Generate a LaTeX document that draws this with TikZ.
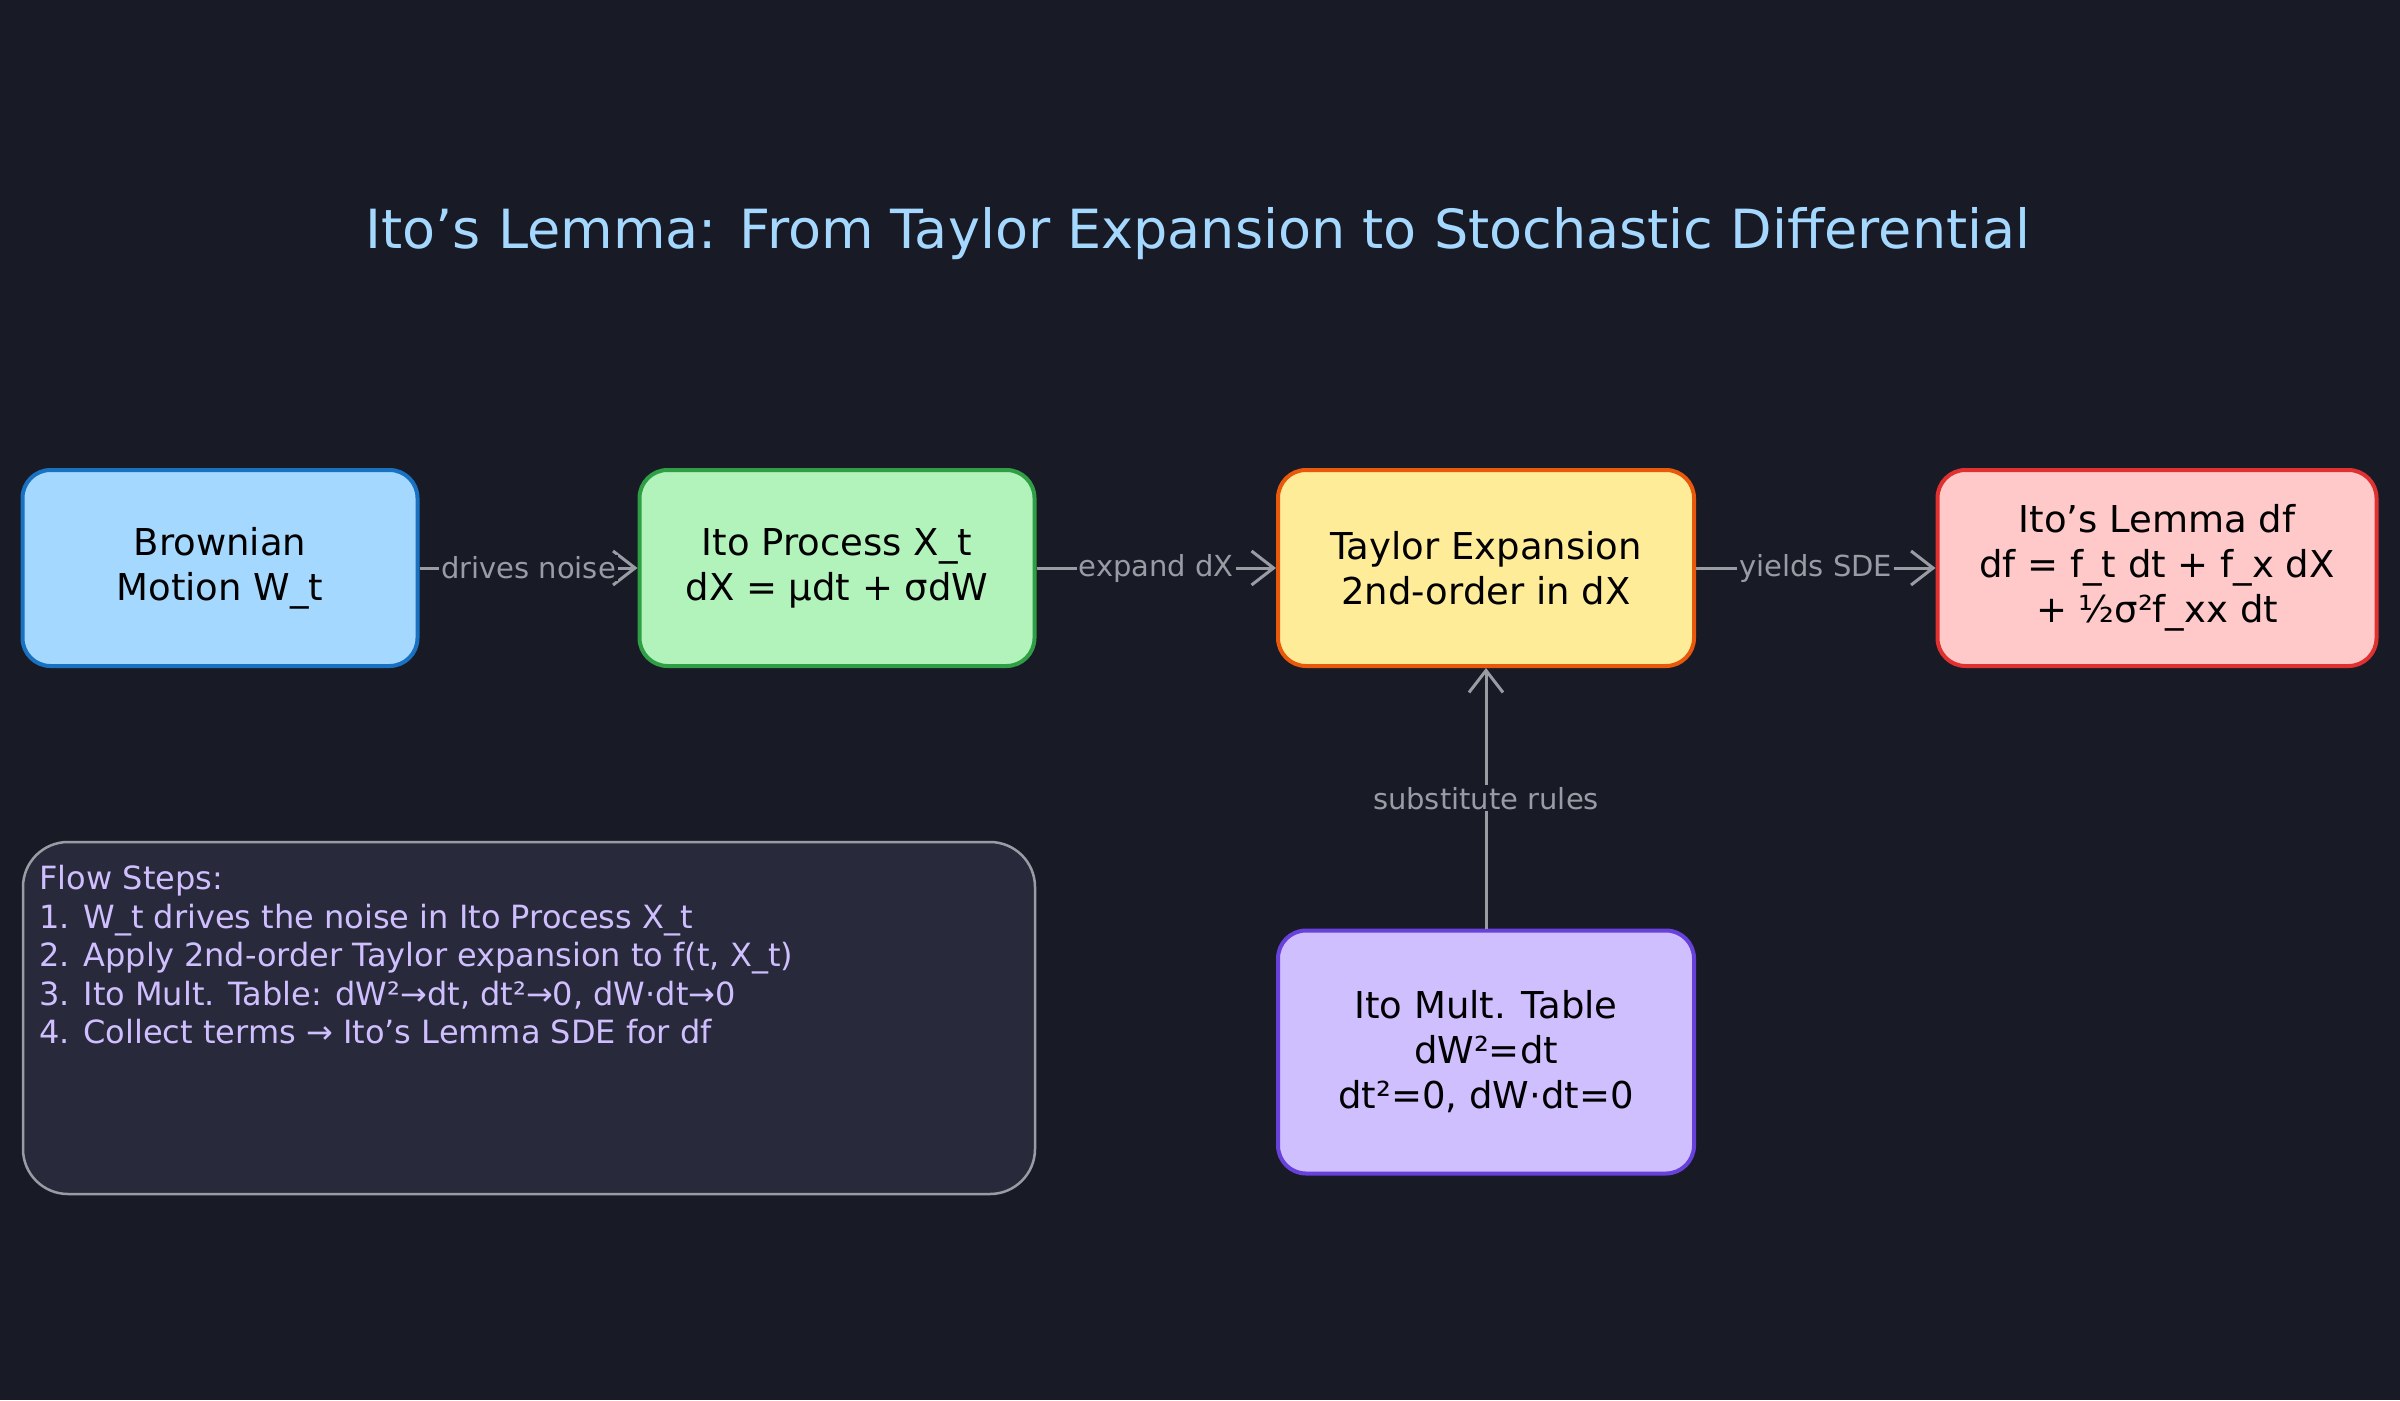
\documentclass[tikz,border=0pt]{standalone}
\usepackage{fontspec}
\setmainfont{DejaVu Sans}
\usetikzlibrary{arrows.meta}
\definecolor{bg}{HTML}{181A26}
\definecolor{ttl}{HTML}{A5D8FF}
\definecolor{lin}{HTML}{9A9CA3}
\definecolor{notefill}{HTML}{282A3B}
\definecolor{notetxt}{HTML}{D0BFFF}
\definecolor{bstr}{HTML}{1971C2}
\definecolor{gfill}{HTML}{B2F2BB}
\definecolor{gstr}{HTML}{2F9E44}
\definecolor{yfill}{HTML}{FFEC99}
\definecolor{ystr}{HTML}{E8590C}
\definecolor{rfill}{HTML}{FFC9C9}
\definecolor{rstr}{HTML}{E03131}
\definecolor{pfill}{HTML}{D0BFFF}
\definecolor{pstr}{HTML}{6741D9}
\tikzset{
 box/.style={draw, line width=4pt, rounded corners=28pt, minimum width=395pt, minimum height=196pt, align=center, font=\fontsize{37}{45}\selectfont, text=black},
 conn/.style={draw=lin, line width=3pt, -{Straight Barb[length=22pt,width=34pt,line width=3pt]}},
 lab/.style={fill=bg, text=lin, font=\fontsize{29}{34}\selectfont, inner sep=2pt}
}
\begin{document}
\begin{tikzpicture}[x=1pt,y=-1pt]
\useasboundingbox[fill=bg] (0,0) rectangle (2400,1400);
\node[text=ttl, font=\fontsize{54}{64}\selectfont] (title) at (1198,234) {Ito's Lemma: From Taylor Expansion to Stochastic Differential};
\node[box, fill=ttl, draw=bstr] (bm) at (220,568) {Brownian\\Motion W\_t};
\node[box, fill=gfill, draw=gstr] (ip) at (837,568) {Ito Process X\_t\\dX = μdt + σdW};
\node[box, fill=yfill, draw=ystr, minimum width=416pt] (te) at (1486,568) {Taylor Expansion\\2nd-order in dX};
\node[box, fill=rfill, draw=rstr, minimum width=439pt] (il) at (2157,568) {Ito's Lemma df\\df = f\_t dt + f\_x dX\\+ ½σ²f\_xx dt};
\node[box, fill=pfill, draw=pstr, minimum width=416pt, minimum height=243pt] (mt) at (1486,1052) {Ito Mult. Table\\dW²=dt\\dt²=0, dW·dt=0};
\node[draw=lin, line width=2.5pt, fill=notefill, rounded corners=45pt, minimum width=1012pt, minimum height=352pt] (note) at (529,1018) {};
\node[anchor=north west, text=notetxt, align=left, font=\fontsize{32}{38.5}\selectfont] (notet) at (36,862) {Flow Steps:\\1. W\_t drives the noise in Ito Process X\_t\\2. Apply 2nd-order Taylor expansion to f(t, X\_t)\\3. Ito Mult. Table: dW²→dt, dt²→0, dW·dt→0\\4. Collect terms → Ito's Lemma SDE for df};
\draw[conn] (bm) -- node[lab] {drives noise} (ip);
\draw[conn] (ip) -- node[lab] {expand dX} (te);
\draw[conn] (te) -- node[lab] {yields SDE} (il);
\draw[conn] (mt) -- node[lab] {substitute rules} (te);
\end{tikzpicture}
\end{document}
